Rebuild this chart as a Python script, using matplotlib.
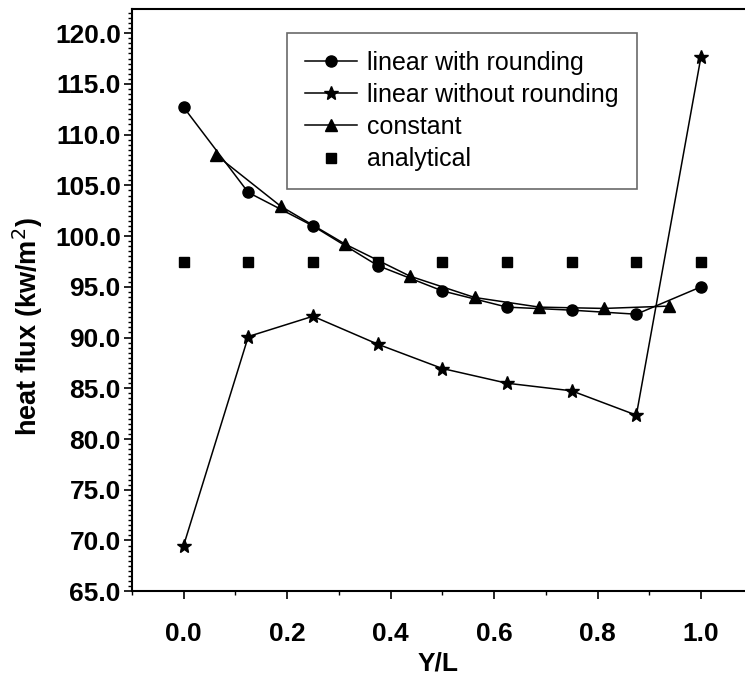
import matplotlib
matplotlib.use("Agg")
import matplotlib.pyplot as plt
from matplotlib.ticker import MultipleLocator, FormatStrFormatter

plt.rcParams["font.family"] = ["Liberation Sans", "DejaVu Sans"]

# nodes (circles, stars, squares) and cell centres (triangles)
x_nodes = [0.0, 0.125, 0.25, 0.375, 0.5, 0.625, 0.75, 0.875, 1.0]
x_cells = [0.0625, 0.1875, 0.3125, 0.4375, 0.5625, 0.6875, 0.8125, 0.9375]

linear_rounding = [112.7, 104.3, 101.0, 97.1, 94.6, 93.0, 92.7, 92.3, 95.0]
linear_no_rounding = [69.5, 90.1, 92.1, 89.35, 86.95, 85.5, 84.75, 82.35, 117.7]
constant = [108.0, 102.95, 99.2, 96.05, 93.95, 93.0, 92.87, 93.1]
analytical = [97.4] * 9

fig = plt.figure(figsize=(7.45, 6.78), dpi=100)
ax = fig.add_axes([0.177, 0.128, 0.823, 0.859])

ax.plot(x_nodes, linear_rounding, "-o", color="black", lw=1.1, ms=8,
        label="linear with rounding")
ax.plot(x_nodes, linear_no_rounding, "-*", color="black", lw=1.1, ms=10,
        label="linear without rounding")
ax.plot(x_cells, constant, "-^", color="black", lw=1.1, ms=9,
        label="constant")
ax.plot(x_nodes, analytical, "s", color="black", ms=7, lw=0,
        label="analytical")

ax.set_xlim(-0.1, 1.085)
ax.set_ylim(65.0, 122.4)
ax.xaxis.set_major_locator(MultipleLocator(0.2))
ax.xaxis.set_minor_locator(MultipleLocator(0.1))
ax.yaxis.set_major_locator(MultipleLocator(5.0))
ax.yaxis.set_minor_locator(MultipleLocator(0.5))
ax.xaxis.set_major_formatter(FormatStrFormatter("%.1f"))
ax.yaxis.set_major_formatter(FormatStrFormatter("%.1f"))

ax.tick_params(which="major", direction="out", length=6, width=1.2,
               labelsize=19)
ax.tick_params(axis="x", which="major", pad=16)
ax.tick_params(axis="y", which="major", pad=2)
ax.tick_params(which="minor", direction="out", length=3, width=1.0)
for lab in ax.get_xticklabels() + ax.get_yticklabels():
    lab.set_fontweight("bold")

ax.spines["right"].set_visible(False)
for s in ["left", "bottom", "top"]:
    ax.spines[s].set_linewidth(1.5)

ax.set_xlabel("Y/L", fontsize=19, fontweight="bold", labelpad=4)
ax.set_ylabel("heat flux (kw/m$^2$)", fontsize=19.5, fontweight="bold")
ax.yaxis.set_label_coords(-0.142, 0.455)

leg = ax.legend(loc="upper left", bbox_to_anchor=(0.253, 0.959), fontsize=18,
                frameon=True, fancybox=False, edgecolor="#444444",
                handlelength=2.1, borderpad=0.72, labelspacing=0.33,
                handletextpad=0.4, borderaxespad=0)
leg.get_frame().set_linewidth(1.2)

fig.savefig("out.png", dpi=100)
